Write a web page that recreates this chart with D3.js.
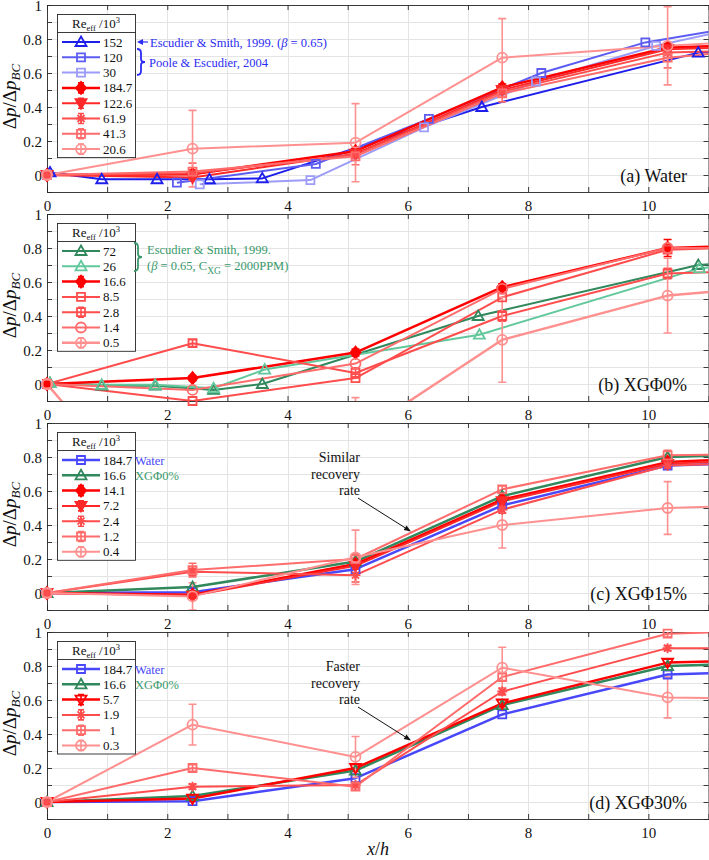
<!DOCTYPE html>
<html>
<head>
<meta charset="utf-8">
<script src="https://cdn.jsdelivr.net/npm/d3@7/dist/d3.min.js"></script>
<style>
  body { margin: 0; background: #fff; }
  svg, svg text { font-family: "Liberation Serif", "Tinos", "Times New Roman", Times, "DejaVu Serif", serif; }
</style>
</head>
<body>
<svg id="chart" width="709" height="860"></svg>
<script>
// measurement stations x/h (last value lies past the axis limit, so only its line shows)
const xMeas = [0, 2.42, 5.13, 7.57, 10.32, 11.3];

// shared reference curves
const yWater = [0, 0.005, 0.14, 0.515, 0.75, 0.76];
const eWater = [0, 0.01, 0.015, 0.02, 0.02, 0];
const yXG0 = [0, 0.035, 0.185, 0.57, 0.80, 0.81];
const eXG0 = [0, 0.015, 0.02, 0.02, 0.05, 0];

// (a) Water
const xEsc152 = [0.05, 0.91, 1.83, 2.7, 3.58, 7.23, 10.83, 11.3];
const yEsc152 = [0.015, -0.025, -0.025, -0.025, -0.02, 0.40, 0.72, 0.725];
const xPoole120 = [2.16, 4.47, 6.35, 8.22, 9.95, 11.3];
const yPoole120 = [-0.045, 0.065, 0.33, 0.60, 0.78, 0.86];
const xPoole30 = [2.54, 4.38, 6.27, 8.13, 10.13, 11.3];
const yPoole30 = [-0.055, -0.03, 0.28, 0.55, 0.76, 0.85];
const yA1226 = [0, -0.015, 0.125, 0.50, 0.74, 0.75];
const eA1226 = [0, 0.01, 0.015, 0.02, 0.02, 0];
const yA619 = [0, 0.01, 0.12, 0.49, 0.72, 0.73];
const eA619 = [0, 0.02, 0.02, 0.03, 0.03, 0];
const yA413 = [0, 0.02, 0.11, 0.48, 0.69, 0.72];
const eA413 = [0, 0.05, 0.05, 0.05, 0.06, 0];
const yA206 = [0, 0.155, 0.19, 0.69, 0.76, 0.78];
const eA206 = [0, 0.225, 0.23, 0.23, 0.23, 0];

// (b) XGΦ0%
const xEsc72 = [0.05, 0.91, 1.8, 2.77, 3.58, 7.17, 10.83, 11.3];
const yEsc72 = [0.005, -0.01, -0.01, -0.035, 0.0, 0.40, 0.70, 0.71];
const xEsc26 = [0.05, 0.91, 1.8, 2.77, 3.62, 7.19, 10.85, 11.3];
const yEsc26 = [0.005, -0.005, -0.005, -0.025, 0.085, 0.29, 0.68, 0.70];
const yB85 = [0, -0.10, 0.035, 0.51, 0.79, 0.80];
const yB28 = [0, 0.24, 0.065, 0.40, 0.65, 0.66];
const eB28 = [0, 0.02, 0.03, 0.03, 0.03, 0];
const yB14 = [0, -0.035, 0.12, 0.56, 0.80, 0.80];
const yB05 = [0, -1.0, -0.31, 0.26, 0.52, 0.55];
const eB05 = [0, 0.25, 0.23, 0.25, 0.22, 0];

// (c) XGΦ15%
const yC141 = [0, -0.01, 0.17, 0.55, 0.77, 0.785];
const eC141 = [0, 0.015, 0.02, 0.02, 0.02, 0];
const yC72 = [0, -0.015, 0.16, 0.54, 0.76, 0.775];
const eC72 = [0, 0.015, 0.02, 0.02, 0.02, 0];
const yC24 = [0, 0.125, 0.105, 0.49, 0.75, 0.76];
const eC24 = [0, 0.02, 0.04, 0.02, 0.02, 0];
const yC12 = [0, 0.135, 0.20, 0.61, 0.81, 0.815];
const eC12 = [0, 0.04, 0.03, 0.02, 0.03, 0];
const yC04 = [0, -0.02, 0.21, 0.40, 0.50, 0.51];
const eC04 = [0, 0.08, 0.16, 0.135, 0.155, 0];

// (d) XGΦ30%
const yD57 = [0, 0.02, 0.20, 0.58, 0.82, 0.83];
const eD57 = [0, 0.015, 0.02, 0.02, 0.02, 0];
const yD19 = [0, 0.09, 0.10, 0.65, 0.905, 0.905];
const eD19 = [0, 0.015, 0.015, 0.02, 0.015, 0];
const yD1 = [0, 0.20, 0.09, 0.735, 0.99, 1.0];
const eD1 = [0, 0.02, 0.02, 0.02, 0.02, 0];
const yD03 = [0, 0.455, 0.265, 0.79, 0.615, 0.61];
const eD03 = [0, 0.12, 0.12, 0.12, 0.12, 0];

const legendA = ["152", "120", "30", "184.7", "122.6", "61.9", "41.3", "20.6"];
const legendB = ["72", "26", "16.6", "8.5", "2.8", "1.4", "0.5"];
const legendC = ["184.7", "16.6", "14.1", "7.2", "2.4", "1.2", "0.4"];
const legendD = ["184.7", "16.6", "5.7", "1.9", "  1", "0.3"];
const panelNames = ["(a) Water", "(b) XGΦ0%", "(c) XGΦ15%", "(d) XGΦ30%"];
const xTicks = [0, 2, 4, 6, 8, 10];
const yTicks = [0, 0.2, 0.4, 0.6, 0.8, 1];

const FONT = "'Liberation Serif', Tinos, 'Times New Roman', Times, 'DejaVu Serif', serif";
const C = {
  blue1: "#1e1eeb", blue2: "#5c5cf3", blue3: "#9c9cf8", water: "#4848fa",
  red1: "#ff0000", red2: "#ff2828", red3: "#ff4c4c", red4: "#ff6c6c", red5: "#ff9090",
  green1: "#30885c", green2: "#62c89c", noteBlue: "#2c2cf2", noteGreen: "#3a9a6c"
};

const panels = [
  { series: [
      { x: xEsc152, y: yEsc152, color: C.blue1, w: 2, mk: "tri" },
      { x: xPoole120, y: yPoole120, color: C.blue2, w: 2, mk: "sq" },
      { x: xPoole30, y: yPoole30, color: C.blue3, w: 2, mk: "sq" },
      { x: xMeas, y: yWater, e: eWater, color: C.red1, w: 2.5, mk: "dia", fill: true },
      { x: xMeas, y: yA1226, e: eA1226, color: C.red2, w: 2, mk: "tridown", fill: true },
      { x: xMeas, y: yA619, e: eA619, color: C.red3, w: 2, mk: "star" },
      { x: xMeas, y: yA413, e: eA413, color: C.red4, w: 2, mk: "sq" },
      { x: xMeas, y: yA206, e: eA206, color: C.red5, w: 2, mk: "circ" }
    ], legend: legendA },
  { series: [
      { x: xEsc72, y: yEsc72, color: C.green1, w: 2, mk: "tri" },
      { x: xEsc26, y: yEsc26, color: C.green2, w: 2, mk: "tri" },
      { x: xMeas, y: yXG0, e: eXG0, color: C.red1, w: 2.5, mk: "dia", fill: true },
      { x: xMeas, y: yB85, color: C.red3, w: 2, mk: "sq" },
      { x: xMeas, y: yB28, e: eB28, color: C.red3, w: 2, mk: "sq" },
      { x: xMeas, y: yB14, color: C.red4, w: 2, mk: "circ" },
      { x: xMeas, y: yB05, e: eB05, color: C.red5, w: 2.5, mk: "circ" }
    ], legend: legendB },
  { series: [
      { x: xMeas, y: yWater, color: C.water, w: 2.5, mk: "sq" },
      { x: xMeas, y: yXG0, color: C.green1, w: 2.5, mk: "tri" },
      { x: xMeas, y: yC141, e: eC141, color: C.red1, w: 2.5, mk: "dia", fill: true },
      { x: xMeas, y: yC72, e: eC72, color: C.red2, w: 2, mk: "tridown", fill: true },
      { x: xMeas, y: yC24, e: eC24, color: C.red3, w: 2, mk: "star" },
      { x: xMeas, y: yC12, e: eC12, color: C.red4, w: 2, mk: "sq" },
      { x: xMeas, y: yC04, e: eC04, color: C.red5, w: 2, mk: "circ" }
    ], legend: legendC },
  { series: [
      { x: xMeas, y: yWater, color: C.water, w: 2.5, mk: "sq" },
      { x: xMeas, y: yXG0, color: C.green1, w: 2.5, mk: "tri" },
      { x: xMeas, y: yD57, e: eD57, color: C.red1, w: 2.5, mk: "tridown" },
      { x: xMeas, y: yD19, e: eD19, color: C.red3, w: 2, mk: "star" },
      { x: xMeas, y: yD1, e: eD1, color: C.red4, w: 2, mk: "sq" },
      { x: xMeas, y: yD03, e: eD03, color: C.red5, w: 2, mk: "circ" }
    ], legend: legendD }
];

const svg = d3.select("#chart").attr("font-family", FONT);
const x = d3.scaleLinear().domain([0, 11]).range([47, 708.5]);
const panelTop = [5, 214, 423, 632];
const panelH = 187;
const axisColor = "#262626";

function markerPath(mk) {
  switch (mk) {
    case "tri": return "M0,-5.5L5.5,4L-5.5,4Z";
    case "tridown": return "M0,5.5L5.5,-4L-5.5,-4Z";
    case "sq": return "M-4,-4H4V4H-4Z";
    case "dia": return "M0,-6L5,0L0,6L-5,0Z";
    case "circ": return "M5,0A5,5 0 1,1 -5,0A5,5 0 1,1 5,0Z";
    case "star": return "M0,-5V5M-5,0H5M-3.5,-3.5L3.5,3.5M-3.5,3.5L3.5,-3.5";
  }
}

function drawMarker(sel, s, cx, cy) {
  sel.append("path")
    .attr("d", markerPath(s.mk))
    .attr("transform", `translate(${cx},${cy})`)
    .attr("fill", s.fill ? s.color : "none")
    .attr("stroke", s.color)
    .attr("stroke-width", 1.8);
}

function errBar(sel, s, cx, yTop, yBot, cap) {
  sel.append("path")
    .attr("d", `M${cx},${yTop}V${yBot}M${cx - cap},${yTop}H${cx + cap}M${cx - cap},${yBot}H${cx + cap}`)
    .attr("fill", "none")
    .attr("stroke", s.color)
    .attr("stroke-width", 1.6);
}

function arrow(sel, x1, y1, x2, y2, color, len, half, w) {
  const a = Math.atan2(y2 - y1, x2 - x1);
  const bx = x2 - Math.cos(a) * len, by = y2 - Math.sin(a) * len;
  const px = -Math.sin(a) * half, py = Math.cos(a) * half;
  sel.append("line")
    .attr("x1", x1).attr("y1", y1).attr("x2", bx).attr("y2", by)
    .attr("stroke", color).attr("stroke-width", w);
  sel.append("path")
    .attr("d", `M${x2},${y2}L${bx + px},${by + py}L${bx - px},${by - py}Z`)
    .attr("fill", color);
}

function brace(sel, x0, y0, y1, w, color) {
  const ym = (y0 + y1) / 2, xm = x0 + w / 2;
  sel.append("path")
    .attr("d", `M${x0},${y0}Q${xm},${y0} ${xm},${y0 + 4}L${xm},${ym - 3}Q${xm},${ym} ${x0 + w},${ym}` +
      `Q${xm},${ym} ${xm},${ym + 3}L${xm},${y1 - 4}Q${xm},${y1} ${x0},${y1}`)
    .attr("fill", "none").attr("stroke", color).attr("stroke-width", 1.8);
}

const sameVal = (a, b) => Math.abs(a - b) < 1e-6;

panels.forEach((p, i) => {
  const top = panelTop[i];
  const y = d3.scaleLinear().domain([-0.1, 1]).range([top + panelH, top]);
  const g = svg.append("g");

  svg.append("clipPath").attr("id", "clip" + i)
    .append("rect")
    .attr("x", x(0)).attr("y", top)
    .attr("width", x(11) - x(0)).attr("height", panelH);

  // grid (every unit in x, every 0.1 in y)
  const xGrid = d3.range(0, 12);
  const yGrid = d3.range(-1, 11).map(k => k / 10);
  g.append("g").selectAll("line").data(xGrid).join("line")
    .attr("x1", d => Math.round(x(d)) + 0.5).attr("x2", d => Math.round(x(d)) + 0.5)
    .attr("y1", top).attr("y2", top + panelH)
    .attr("stroke", "#e4e4e4").attr("stroke-width", 1);
  g.append("g").selectAll("line").data(yGrid).join("line")
    .attr("y1", d => Math.round(y(d)) + 0.5).attr("y2", d => Math.round(y(d)) + 0.5)
    .attr("x1", x(0)).attr("x2", x(11))
    .attr("stroke", "#e4e4e4").attr("stroke-width", 1);

  // axes with inward ticks on all four sides
  const xLabel = d => xTicks.some(t => sameVal(t, d)) ? d3.format("")(d) : "";
  const yLabel = d => yTicks.some(t => sameVal(t, d)) ? d3.format("")(+d.toFixed(1)) : "";
  const axes = g.append("g").attr("color", axisColor);
  axes.append("g").attr("transform", `translate(0,${top + panelH})`)
    .call(d3.axisBottom(x).tickValues(xGrid).tickFormat(xLabel).tickSizeInner(-5).tickSizeOuter(0).tickPadding(8));
  axes.append("g").attr("transform", `translate(0,${top})`)
    .call(d3.axisTop(x).tickValues(xGrid).tickFormat("").tickSizeInner(-5).tickSizeOuter(0));
  axes.append("g").attr("class", "yax").attr("transform", `translate(${x(0)},0)`)
    .call(d3.axisLeft(y).tickValues(yGrid).tickFormat(yLabel).tickSizeInner(-5).tickSizeOuter(0).tickPadding(5));
  axes.append("g").attr("transform", `translate(${x(11)},0)`)
    .call(d3.axisRight(y).tickValues(yGrid).tickFormat("").tickSizeInner(-5).tickSizeOuter(0));
  axes.selectAll("g").attr("font-family", FONT);
  axes.selectAll("text").attr("font-size", 15).attr("font-family", FONT).attr("fill", "#111");
  axes.select(".yax").selectAll("text").attr("dy", "0.37em");
  axes.selectAll(".domain, line").attr("stroke-width", 0.9);

  // data
  const plot = g.append("g");
  const clipped = plot.append("g").attr("clip-path", `url(#clip${i})`);
  const line = d3.line().x(d => x(d[0])).y(d => y(d[1]));
  p.series.forEach(s => {
    const pts = s.x.map((v, k) => [v, s.y[k]]);
    clipped.append("path")
      .attr("d", line(pts))
      .attr("fill", "none")
      .attr("stroke", s.color)
      .attr("stroke-width", s.w)
      .attr("stroke-linejoin", "round");
    if (s.e) {
      pts.forEach((d, k) => {
        if (s.e[k] > 0) errBar(clipped, s, x(d[0]), y(d[1] + s.e[k]), y(d[1] - s.e[k]), 4);
      });
    }
    pts.forEach(d => {
      if (d[0] >= 0 && d[0] <= 11 && d[1] >= -0.1 && d[1] <= 1) drawMarker(plot, s, x(d[0]), y(d[1]));
    });
  });

  // legend
  const lg = g.append("g");
  const rowY = k => top + 37 + k * 15.3;
  const lgBottom = rowY(p.series.length - 1) + 8;
  lg.append("rect")
    .attr("x", 57.5).attr("y", top + 9.5)
    .attr("width", 78).attr("height", lgBottom - top - 9)
    .attr("fill", "#fff").attr("stroke", axisColor).attr("stroke-width", 0.9);
  lg.append("line")
    .attr("x1", 57.5).attr("x2", 135.5)
    .attr("y1", top + 27.5).attr("y2", top + 27.5)
    .attr("stroke", axisColor).attr("stroke-width", 0.9);
  const head = lg.append("text")
    .attr("x", 96).attr("y", top + 23)
    .attr("text-anchor", "middle").attr("font-size", 13).attr("fill", "#111");
  head.append("tspan").text("Re");
  head.append("tspan").attr("font-size", 8.5).attr("dy", 2.5).text("eff");
  head.append("tspan").attr("dy", -2.5).text(" /10");
  head.append("tspan").attr("font-size", 8.5).attr("dy", -5).text("3");

  p.series.forEach((s, k) => {
    const cy = rowY(k);
    lg.append("line")
      .attr("x1", 62).attr("x2", 100).attr("y1", cy).attr("y2", cy)
      .attr("stroke", s.color).attr("stroke-width", s.w);
    if (s.e) errBar(lg, s, 81, cy - 5, cy + 5, 3);
    drawMarker(lg, s, 81, cy);
    lg.append("text")
      .attr("x", 103).attr("y", cy + 4.5)
      .attr("font-size", 13).attr("fill", "#111")
      .style("white-space", "pre")
      .text(p.legend[k]);
  });

  // y label
  const yl = svg.append("text")
    .attr("transform", `translate(16,${top + panelH / 2 - 2}) rotate(-90)`)
    .attr("text-anchor", "middle").attr("font-size", 19).attr("fill", "#111");
  yl.append("tspan").text("Δ");
  yl.append("tspan").attr("font-style", "italic").text("p");
  yl.append("tspan").text("/Δ");
  yl.append("tspan").attr("font-style", "italic").text("p");
  yl.append("tspan").attr("font-style", "italic").attr("font-size", 13).attr("dy", 4).text("BC");

  // panel name
  svg.append("text")
    .attr("x", 687).attr("y", top + panelH - 10)
    .attr("text-anchor", "end").attr("font-size", 18).attr("fill", "#111")
    .text(panelNames[i]);
});

// annotations, panel (a)
const na = svg.append("g").attr("font-size", 12.5).attr("fill", C.noteBlue);
arrow(na, 148, panelTop[0] + 37, 137, panelTop[0] + 37, C.noteBlue, 6, 3, 1.2);
const t1 = na.append("text").attr("x", 150).attr("y", panelTop[0] + 41.5);
t1.append("tspan").text("Escudier & Smith, 1999. (");
t1.append("tspan").attr("font-style", "italic").text("β");
t1.append("tspan").text(" = 0.65)");
brace(na, 137, panelTop[0] + 44, panelTop[0] + 70, 8, C.noteBlue);
na.append("text").attr("x", 149).attr("y", panelTop[0] + 61.5).text("Poole & Escudier, 2004");

// annotations, panel (b)
const nb = svg.append("g").attr("font-size", 12.5).attr("fill", C.noteGreen);
brace(nb, 134, panelTop[1] + 29, panelTop[1] + 57, 8, C.noteGreen);
nb.append("text").attr("x", 147).attr("y", panelTop[1] + 39.5).text("Escudier & Smith, 1999.");
const t2 = nb.append("text").attr("x", 147).attr("y", panelTop[1] + 55.5);
t2.append("tspan").text("(");
t2.append("tspan").attr("font-style", "italic").text("β");
t2.append("tspan").text(" = 0.65, C");
t2.append("tspan").attr("font-size", 9.5).attr("dy", 4).text("XG");
t2.append("tspan").attr("dy", -4).text(" = 2000PPM)");

// annotations, panels (c) and (d)
[["Similar", "recovery", "rate"], ["Faster", "recovery", "rate"]].forEach((words, j) => {
  const top = panelTop[2 + j];
  const g = svg.append("g");
  g.append("text").attr("x", 135).attr("y", top + 41.5)
    .attr("font-size", 12.5).attr("fill", C.water).text("Water");
  g.append("text").attr("x", 135).attr("y", top + 57)
    .attr("font-size", 12.5).attr("fill", C.noteGreen).text("XGΦ0%");
  words.forEach((w, k) => {
    g.append("text").attr("x", 360).attr("y", top + 39 + k * 16.5)
      .attr("text-anchor", "end").attr("font-size", 14).attr("fill", "#111").text(w);
  });
  arrow(g, 358, top + 75, 411, top + 108.5, "#111", 7, 2.6, 1);
});

// x label
const xl = svg.append("text")
  .attr("x", 378).attr("y", 855)
  .attr("text-anchor", "middle").attr("font-size", 18).attr("fill", "#111");
xl.append("tspan").attr("font-style", "italic").text("x");
xl.append("tspan").text("/");
xl.append("tspan").attr("font-style", "italic").text("h");
</script>
</body>
</html>
